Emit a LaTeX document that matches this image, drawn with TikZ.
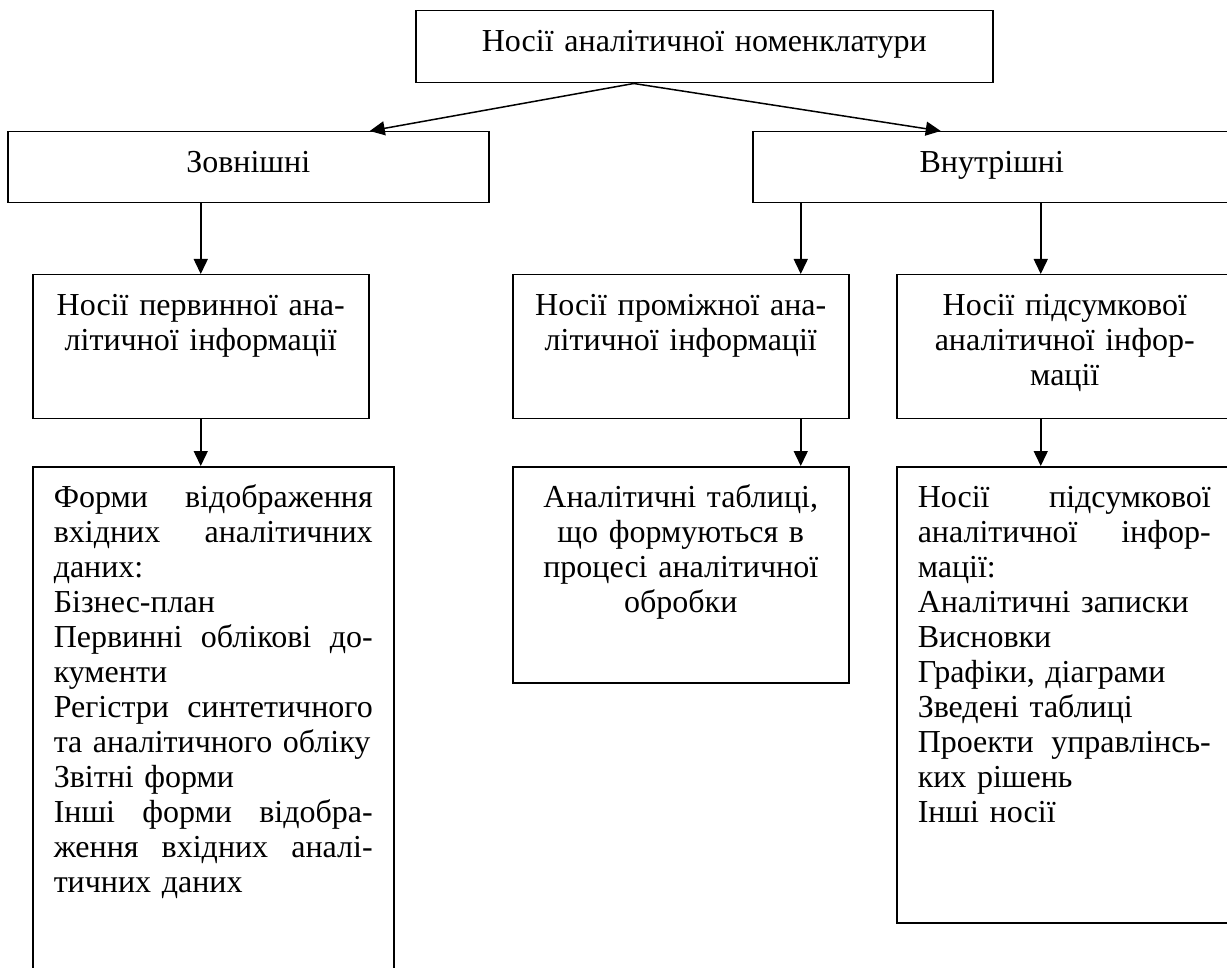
\documentclass[tikz,border=0pt]{standalone}
\usepackage{fontspec}
\setmainfont{Liberation Serif}
\usetikzlibrary{arrows.meta}

\tikzset{
  blok/.style={draw, line width=0.75pt, anchor=north west, inner xsep=10.5pt, inner ysep=0pt,
    text height=20.5pt, font=\fontsize{16}{17.5}\selectfont},
  strilka/.style={line width=0.75pt, -{Triangle[length=7.5pt,width=7pt]}}
}

\begin{document}
\begin{tikzpicture}[x=0.5pt, y=-0.5pt]
\useasboundingbox (0,0) rectangle (1227,968);
\clip (0,0) rectangle (1227,968);
% top level
\node[blok, align=center, text width=267.5pt, text depth=15.5pt] (nom) at (415,10) {Носії аналітичної номенклатури};
\node[blok, align=center, text width=219.5pt, text depth=15pt] (zov) at (7,131) {Зовнішні};
\node[blok, align=center, text width=218pt, text depth=15pt] (vnu) at (752,131) {Внутрішні};
% second level
\node[blok, align=center, text width=147pt, text depth=51.5pt] (prim) at (32,274) {Носії первинної ана-\\літичної інформації};
\node[blok, align=center, text width=147pt, text depth=51.5pt] (prom) at (512,274) {Носії проміжної ана-\\літичної інформації};
\node[blok, align=center, text width=147pt, text depth=51.5pt] (pids) at (896,274) {Носії підсумкової\\аналітичної інфор-\\мації};
% third level
\node[blok, align=left, text width=159.5pt, text depth=241.5pt] (formy) at (32,466) {%
Форми \hfill відображення\\
вхідних \hfill аналітичних\\
даних:\\
Бізнес-план\\
Первинні \hfill облікові \hfill до-\\
кументи\\
Регістри \hfill синтетичного\\
та аналітичного обліку\\
Звітні форми\\
Інші \hfill форми \hfill відобра-\\
ження \hfill вхідних \hfill аналі-\\
тичних даних};
\node[blok, align=center, text width=147pt, text depth=87.5pt] (tabl) at (512,466) {Аналітичні таблиці,\\що формуються в\\процесі аналітичної\\обробки};
\node[blok, align=left, text width=146.5pt, text depth=207.5pt] (nosii) at (896,466) {%
Носії \hfill підсумкової\\
аналітичної \hfill інфор-\\
мації:\\
Аналітичні записки\\
Висновки\\
Графіки, діаграми\\
Зведені таблиці\\
Проекти \hfill управлінсь-\\
ких рішень\\
Інші носії};
% arrows
\coordinate (p1) at ([xshift=60pt]prom.north);
\coordinate (p2) at ([xshift=-12pt]pids.north);
\draw[strilka] ([xshift=-35.25pt]nom.south) -- ([xshift=60.75pt]zov.north);
\draw[strilka] ([xshift=-35.25pt]nom.south) -- ([xshift=-25.5pt]vnu.north);
\draw[strilka] (zov.south -| prim.north) -- (prim.north);
\draw[strilka] (p1 |- vnu.south) -- (p1);
\draw[strilka] (p2 |- vnu.south) -- (p2);
\draw[strilka] (prim.south) -- (prim.south |- formy.north);
\draw[strilka] (prom.south -| p1) -- (tabl.north -| p1);
\draw[strilka] (pids.south -| p2) -- (nosii.north -| p2);
\end{tikzpicture}
\end{document}
